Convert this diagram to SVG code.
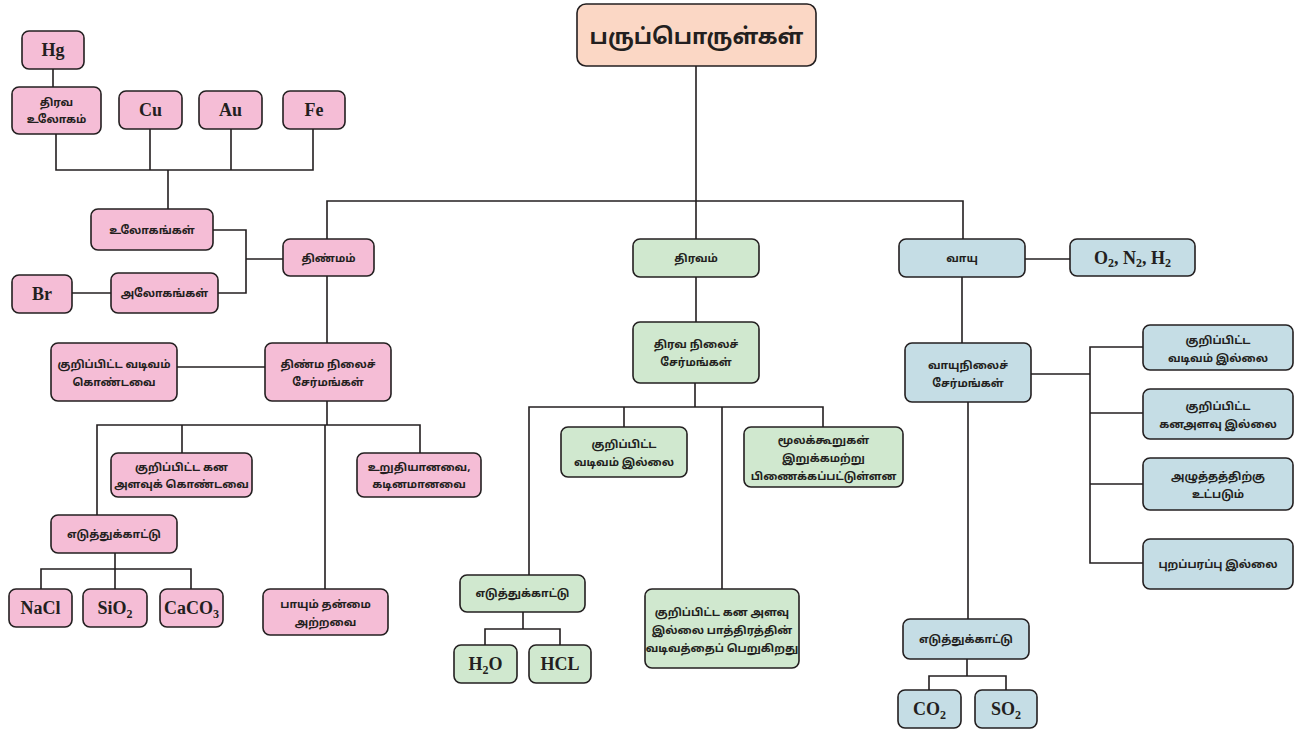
<svg xmlns="http://www.w3.org/2000/svg" width="1297" height="730" viewBox="0 0 1297 730">
<style>
.p,.g,.b,.r{stroke:#231f20;stroke-width:1.6}
.p{fill:#f5bdd6}.g{fill:#d0e8cf}.b{fill:#c5dde5}.r{fill:#fbd7c5}
.t{font-family:"Noto Sans Tamil","Lohit Tamil","Noto Sans",sans-serif;font-size:11px;font-weight:bold;fill:#231f20;text-anchor:middle}
.l{font-family:"Liberation Serif",serif;font-weight:bold;font-size:18px;fill:#231f20;text-anchor:middle}
.s{font-size:12px}
#conn path{fill:none;stroke:#231f20;stroke-width:1.6}
</style>
<rect width="1297" height="730" fill="#fff"/>
<g id="conn">
<path d="M53 69V87"/>
<path d="M56 134V170H313V129M150 129V170M231 129V170M168 170V209"/>
<path d="M213 230H246V293H218M246 259H283"/>
<path d="M72 293H111"/>
<path d="M327 239V201H963V239M696 66V239"/>
<path d="M327 276V343"/>
<path d="M177 367H265"/>
<path d="M327 401V425M97 515V425H420V453M182 425V453M325 425V589"/>
<path d="M115 553V569M41 589V569H191V589M115 569V589"/>
<path d="M696 277V322M695 383V407M529 575V407H823V427M624 407V427M722 407V589"/>
<path d="M523 612V629M485 645V629H560V645"/>
<path d="M1025 259H1070"/>
<path d="M962 277V343"/>
<path d="M1031 374H1090M1143 347H1090V563H1143M1090 413H1143M1090 484H1143"/>
<path d="M968 402V619"/>
<path d="M967 659V676M929 690V676H1006V690"/>
</g>
<g id="root"><rect class="r" x="577" y="4" width="239" height="62" rx="9"/><text class="t" x="696.5" y="44" style="font-size:22px">பருப்பொருள்கள்</text></g>
<g id="hg"><rect class="p" x="22" y="31" width="62" height="38" rx="7"/><text class="l" x="53" y="56">Hg</text></g>
<g id="liqmetal"><rect class="p" x="12" y="87" width="89" height="47" rx="7"/><text class="t" x="56.5" y="106">திரவ</text><text class="t" x="56.5" y="123">உலோகம்</text></g>
<g id="cu"><rect class="p" x="119" y="91" width="63" height="38" rx="7"/><text class="l" x="150.5" y="116">Cu</text></g>
<g id="au"><rect class="p" x="199" y="91" width="63" height="38" rx="7"/><text class="l" x="230.5" y="116">Au</text></g>
<g id="fe"><rect class="p" x="283" y="91" width="62" height="38" rx="7"/><text class="l" x="314" y="116">Fe</text></g>
<g id="metals"><rect class="p" x="91" y="209" width="122" height="41" rx="7"/><text class="t" x="152" y="234">உலோகங்கள்</text></g>
<g id="nonmetals"><rect class="p" x="111" y="273" width="107" height="40" rx="7"/><text class="t" x="164.5" y="297">அலோகங்கள்</text></g>
<g id="br"><rect class="p" x="12" y="275" width="60" height="38" rx="7"/><text class="l" x="42" y="300">Br</text></g>
<g id="solid"><rect class="p" x="283" y="239" width="91" height="37" rx="7"/><text class="t" x="328.5" y="262">திண்மம்</text></g>
<g id="defshape"><rect class="p" x="51" y="343" width="126" height="58" rx="7"/><text class="t" x="114" y="368">குறிப்பிட்ட வடிவம்</text><text class="t" x="114" y="386">கொண்டவை</text></g>
<g id="solidcomp"><rect class="p" x="265" y="343" width="126" height="58" rx="7"/><text class="t" x="328" y="368">திண்ம நிலைச்</text><text class="t" x="328" y="386">சேர்மங்கள்</text></g>
<g id="defvol"><rect class="p" x="111" y="453" width="141" height="44" rx="7"/><text class="t" x="181.5" y="471">குறிப்பிட்ட கன</text><text class="t" x="181.5" y="488">அளவுக் கொண்டவை</text></g>
<g id="rigid"><rect class="p" x="357" y="453" width="124" height="44" rx="7"/><text class="t" x="419" y="471">உறுதியானவை,</text><text class="t" x="419" y="488">கடினமானவை</text></g>
<g id="ex1"><rect class="p" x="51" y="515" width="126" height="38" rx="7"/><text class="t" x="114" y="538">எடுத்துக்காட்டு</text></g>
<g id="nacl"><rect class="p" x="9" y="589" width="63" height="38" rx="7"/><text class="l" x="40.5" y="614">NaCl</text></g>
<g id="sio2"><rect class="p" x="83" y="589" width="64" height="38" rx="7"/><text class="l" x="115" y="614">SiO<tspan class="s" dy="4">2</tspan></text></g>
<g id="caco3"><rect class="p" x="160" y="589" width="63" height="38" rx="7"/><text class="l" x="191.5" y="614">CaCO<tspan class="s" dy="4">3</tspan></text></g>
<g id="noflow"><rect class="p" x="263" y="589" width="125" height="46" rx="7"/><text class="t" x="325.5" y="608">பாயும் தன்மை</text><text class="t" x="325.5" y="626">அற்றவை</text></g>
<g id="liquid"><rect class="g" x="633" y="239" width="126" height="38" rx="7"/><text class="t" x="696" y="262">திரவம்</text></g>
<g id="liqcomp"><rect class="g" x="633" y="322" width="126" height="61" rx="7"/><text class="t" x="696" y="348">திரவ நிலைச்</text><text class="t" x="696" y="366">சேர்மங்கள்</text></g>
<g id="noshape"><rect class="g" x="561" y="427" width="126" height="50" rx="7"/><text class="t" x="624" y="448">குறிப்பிட்ட</text><text class="t" x="624" y="466">வடிவம் இல்லை</text></g>
<g id="molecules"><rect class="g" x="744" y="427" width="159" height="60" rx="7"/><text class="t" x="823.5" y="444">மூலக்கூறுகள்</text><text class="t" x="823.5" y="462">இறுக்கமற்று</text><text class="t" x="823.5" y="480">பிணைக்கப்பட்டுள்ளன</text></g>
<g id="ex2"><rect class="g" x="460" y="575" width="125" height="37" rx="7"/><text class="t" x="522.5" y="597">எடுத்துக்காட்டு</text></g>
<g id="h2o"><rect class="g" x="454" y="645" width="63" height="38" rx="7"/><text class="l" x="485.5" y="670">H<tspan class="s" dy="4">2</tspan><tspan dy="-4">O</tspan></text></g>
<g id="hcl"><rect class="g" x="529" y="645" width="62" height="38" rx="7"/><text class="l" x="560" y="670">HCL</text></g>
<g id="novol"><rect class="g" x="645" y="589" width="154" height="79" rx="7"/><text class="t" x="722" y="616">குறிப்பிட்ட கன அளவு</text><text class="t" x="722" y="634">இல்லை பாத்திரத்தின்</text><text class="t" x="722" y="652">வடிவத்தைப் பெறுகிறது</text></g>
<g id="gas"><rect class="b" x="899" y="239" width="126" height="38" rx="7"/><text class="t" x="962" y="262">வாயு</text></g>
<g id="o2"><rect class="b" x="1070" y="239" width="125" height="37" rx="7"/><text class="l" x="1132.5" y="264">O<tspan class="s" dy="3">2</tspan><tspan dy="-3">, N</tspan><tspan class="s" dy="3">2</tspan><tspan dy="-3">, H</tspan><tspan class="s" dy="3">2</tspan></text></g>
<g id="gascomp"><rect class="b" x="905" y="343" width="126" height="59" rx="7"/><text class="t" x="968" y="369">வாயுநிலைச்</text><text class="t" x="968" y="387">சேர்மங்கள்</text></g>
<g id="g1"><rect class="b" x="1143" y="325" width="150" height="45" rx="7"/><text class="t" x="1218" y="344">குறிப்பிட்ட</text><text class="t" x="1218" y="362">வடிவம் இல்லை</text></g>
<g id="g2"><rect class="b" x="1143" y="389" width="150" height="50" rx="7"/><text class="t" x="1218" y="410">குறிப்பிட்ட</text><text class="t" x="1218" y="428">கனஅளவு இல்லை</text></g>
<g id="g3"><rect class="b" x="1143" y="458" width="150" height="52" rx="7"/><text class="t" x="1218" y="480">அழுத்தத்திற்கு</text><text class="t" x="1218" y="498">உட்படும்</text></g>
<g id="g4"><rect class="b" x="1143" y="539" width="150" height="50" rx="7"/><text class="t" x="1218" y="568">புறப்பரப்பு இல்லை</text></g>
<g id="ex3"><rect class="b" x="903" y="619" width="126" height="40" rx="7"/><text class="t" x="966" y="643">எடுத்துக்காட்டு</text></g>
<g id="co2"><rect class="b" x="898" y="690" width="63" height="38" rx="7"/><text class="l" x="929.5" y="715">CO<tspan class="s" dy="4">2</tspan></text></g>
<g id="so2"><rect class="b" x="975" y="690" width="62" height="38" rx="7"/><text class="l" x="1006" y="715">SO<tspan class="s" dy="4">2</tspan></text></g>
</svg>
